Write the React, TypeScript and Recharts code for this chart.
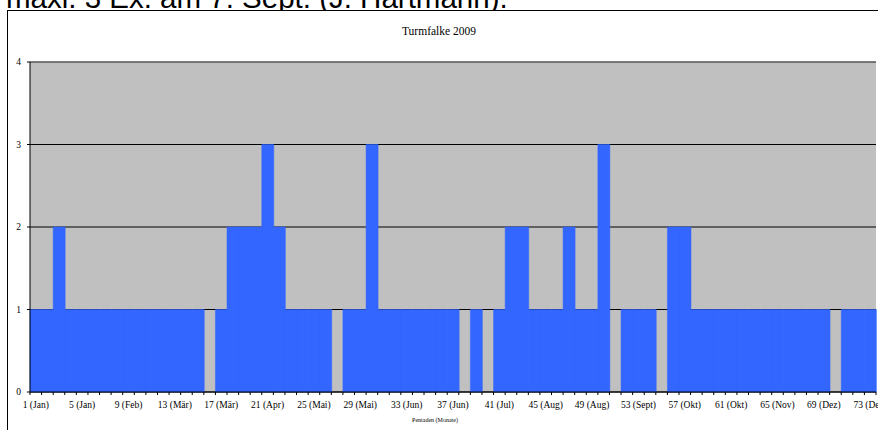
import React from "react";
import { BarChart, Bar, XAxis, YAxis, CartesianGrid, ReferenceLine } from "recharts";

const pentads = [
  1, 2, 3, 4, 5, 6, 7, 8, 9, 10, 11, 12, 13, 14, 15, 16, 17, 18, 19, 20,
  21, 22, 23, 24, 25, 26, 27, 28, 29, 30, 31, 32, 33, 34, 35, 36, 37, 38, 39, 40,
  41, 42, 43, 44, 45, 46, 47, 48, 49, 50, 51, 52, 53, 54, 55, 56, 57, 58, 59, 60,
  61, 62, 63, 64, 65, 66, 67, 68, 69, 70, 71, 72, 73,
];

const counts = [
  1, 1, 2, 1, 1, 1, 1, 1, 1, 1, 1, 1, 1, 1, 1,
  0, 1, 2, 2, 2, 3, 2,
  1, 1, 1, 1, 0, 1, 1, 3,
  1, 1, 1, 1, 1, 1, 1, 0, 1, 0,
  1, 2, 2, 1, 1, 1, 2, 1, 1, 3,
  0, 1, 1, 1, 0, 2, 2,
  1, 1, 1, 1, 1, 1, 1, 1, 1, 1, 1, 1,
  0, 1, 1, 1,
];

const tickLabels = [
  "1 (Jan)", "5 (Jan)", "9 (Feb)", "13 (Mär)", "17 (Mär)", "21 (Apr)", "25 (Mai)",
  "29 (Mai)", "33 (Jun)", "37 (Jun)", "41 (Jul)", "45 (Aug)", "49 (Aug)", "53 (Sept)",
  "57 (Okt)", "61 (Okt)", "65 (Nov)", "69 (Dez)", "73 (Dez)",
];

const yTicks = [0, 1, 2, 3, 4];

const chartTitle = "Turmfalke 2009";
const xAxisTitle = "Pentaden (Monate)";
const pageText = "maxi. 3 Ex. am 7. Sept. (J. Hartmann).";

const data = pentads.map((p, i) => ({ pentad: p, count: counts[i] }));

const W = 878;
const H = 430;
const MARGIN = { top: 62, right: 2, bottom: 8, left: 10 };
const Y_AXIS_W = 20;
const X_AXIS_H = 30;
const PLOT_W = W - MARGIN.left - MARGIN.right - Y_AXIS_W;
const BAND = PLOT_W / pentads.length;
const SERIF = '"Liberation Serif", "Times New Roman", serif';

const PentadTick = (props: any) => {
  const { x, y, index } = props;
  const isLast = index === pentads.length - 1;
  const label = index % 4 === 0 ? tickLabels[index / 4] : null;
  return (
    <g>
      <line x1={x - BAND / 2} x2={x - BAND / 2} y1={y} y2={y + 3} stroke="#000" strokeWidth={1} />
      {isLast && (
        <line x1={x + BAND / 2} x2={x + BAND / 2} y1={y} y2={y + 3} stroke="#000" strokeWidth={1} />
      )}
      {label && (
        <text x={x} y={y + 16} textAnchor="middle" fontFamily={SERIF} fontSize={9.5} fill="#000">
          {label}
        </text>
      )}
    </g>
  );
};

export default function App() {
  return (
    <div
      style={{
        position: "fixed",
        left: 0,
        top: 0,
        width: W,
        height: H,
        overflow: "hidden",
        background: "#fff",
      }}
    >
      <div
        style={{
          position: "absolute",
          left: 6,
          top: -17,
          fontFamily: '"Liberation Sans", Arial, sans-serif',
          fontSize: 29.5,
          lineHeight: "29.5px",
          whiteSpace: "nowrap",
          color: "#000",
        }}
      >
        {pageText}
      </div>
      <div
        style={{
          position: "absolute",
          left: 7,
          top: 10,
          width: 1000,
          height: 600,
          border: "1px solid #000",
          background: "#fff",
        }}
      />
      <div style={{ position: "absolute", left: 0, top: 0, width: W, height: H }}>
        <BarChart
          width={W}
          height={H}
          data={data}
          margin={MARGIN}
          barCategoryGap={0}
          barGap={0}
        >
          <CartesianGrid
            vertical={false}
            stroke="#000"
            strokeWidth={1}
            fill="#C0C0C0"
            fillOpacity={1}
          />
          <XAxis
            dataKey="pentad"
            interval={0}
            height={X_AXIS_H}
            tickLine={false}
            tickSize={0}
            tickMargin={0}
            axisLine={{ stroke: "#000", strokeWidth: 1 }}
            tick={<PentadTick />}
          />
          <YAxis
            width={Y_AXIS_W}
            domain={[0, 4]}
            ticks={yTicks}
            interval={0}
            allowDecimals={false}
            tickSize={3}
            tickMargin={6}
            axisLine={{ stroke: "#000", strokeWidth: 1 }}
            tickLine={{ stroke: "#000", strokeWidth: 1 }}
            tick={{ fontFamily: SERIF, fontSize: 9.5, fill: "#000" }}
          />
          <ReferenceLine y={4} stroke="#808080" strokeWidth={1} ifOverflow="visible" />
          <Bar
            dataKey="count"
            fill="#3366FF"
            stroke="#3366FF"
            strokeWidth={0.5}
            isAnimationActive={false}
          />
        </BarChart>
      </div>
      <svg
        width={W}
        height={H}
        style={{ position: "absolute", left: 0, top: 0, pointerEvents: "none" }}
      >
        <text x={439} y={35} textAnchor="middle" fontFamily={SERIF} fontSize={11.5} fill="#000">
          {chartTitle}
        </text>
        <text x={435} y={422} textAnchor="middle" fontFamily={SERIF} fontSize={6} fill="#000">
          {xAxisTitle}
        </text>
      </svg>
    </div>
  );
}
